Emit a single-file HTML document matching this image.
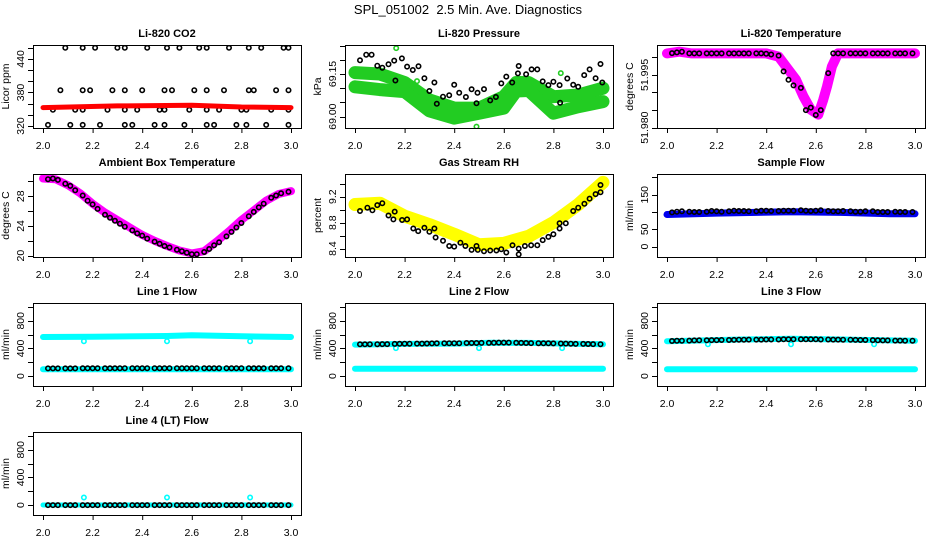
<!DOCTYPE html>
<html><head><meta charset="utf-8">
<style>
html,body{margin:0;padding:0;background:#fff;}
svg{display:block;font-family:"Liberation Sans",Arial,sans-serif;}
</style></head>
<body>
<svg id="chart" width="936" height="540" viewBox="0 0 936 540" xmlns="http://www.w3.org/2000/svg">
<text x="468" y="14" text-anchor="middle" font-size="13" xml:space="preserve">SPL_051002  2.5 Min. Ave. Diagnostics</text>
</svg>
<script>
// shared x grid (hours)
const xGrid = [2.02,2.04,2.06,2.09,2.11,2.13,2.16,2.18,2.20,2.22,2.25,2.27,2.29,2.31,2.33,2.36,2.38,2.40,2.42,2.45,2.47,2.49,2.51,2.54,2.56,2.58,2.60,2.62,2.65,2.67,2.69,2.71,2.74,2.76,2.78,2.80,2.83,2.85,2.87,2.89,2.92,2.94,2.96,2.99];
const xTicks = [2.0,2.2,2.4,2.6,2.8,3.0];
const xTickLabels = ["2.0","2.2","2.4","2.6","2.8","3.0"];

// CO2
const co2BandX = [2.0,2.3,2.6,2.8,3.0];
const co2BandY = [353,356,357,354,353];
const co2PtsX = [2.09,2.16,2.21,2.30,2.33,2.42,2.50,2.55,2.63,2.66,2.75,2.83,2.88,2.97,2.99,
 2.07,2.16,2.19,2.28,2.33,2.40,2.49,2.52,2.61,2.66,2.73,2.83,2.85,2.94,2.99,
 2.04,2.13,2.16,2.26,2.33,2.38,2.47,2.49,2.59,2.66,2.71,2.80,2.82,2.92,2.99,
 2.02,2.11,2.16,2.23,2.33,2.36,2.45,2.49,2.57,2.66,2.69,2.78,2.82,2.90,2.99];
const co2PtsY = [460,460,460,460,460,460,460,460,460,460,460,460,460,460,460,
 384,384,384,384,384,384,384,384,384,384,384,384,384,384,384,
 349,349,349,349,349,349,349,349,349,349,349,349,349,349,349,
 322,322,322,322,322,322,322,322,322,322,322,322,322,322,322];

// Pressure
const presBandX = [2.0,2.1,2.2,2.3,2.4,2.5,2.6,2.65,2.7,2.8,2.9,3.0];
const presBand1 = [69.155,69.150,69.120,69.059,69.030,69.030,69.070,69.120,69.120,69.070,69.076,69.100];
const presBand2 = [69.105,69.095,69.088,69.020,68.995,69.012,69.030,69.090,69.092,69.012,69.035,69.053];
const presPtsX = [2.02,2.045,2.067,2.09,2.11,2.135,2.158,2.163,2.189,2.21,2.233,2.256,2.28,2.30,2.32,2.33,2.355,2.38,2.40,2.42,2.447,2.47,2.49,2.494,2.52,2.545,2.568,2.59,2.61,2.634,2.657,2.66,2.69,2.712,2.735,2.757,2.78,2.80,2.825,2.827,2.856,2.88,2.90,2.924,2.946,2.97,2.99,2.997];
const presPtsY = [69.198,69.218,69.218,69.179,69.172,69.184,69.197,69.127,69.205,69.176,69.164,69.177,69.135,69.090,69.120,69.045,69.070,69.075,69.112,69.084,69.069,69.096,69.047,69.084,69.097,69.057,69.069,69.117,69.141,69.120,69.152,69.178,69.149,69.166,69.166,69.124,69.111,69.123,69.111,69.049,69.134,69.112,69.105,69.146,69.166,69.135,69.185,69.120];
const presOutX = [2.166,2.49,2.83,2.25];
const presOutY = [69.241,68.965,69.153,69.125];

// Li-820 temperature
const ltBandX = [2.0,2.05,2.1,2.4,2.45,2.48,2.52,2.55,2.58,2.61,2.63,2.645,2.665,2.69,3.0];
const ltBandY = [52.0011,52.0016,52.0011,52.0011,52.0002,51.9974,51.9936,51.9889,51.9851,51.9837,51.9879,51.9917,51.9974,52.0011,52.0011];
const ltPtsY = [52.0012,52.0014,52.0016,52.0011,52.0011,52.0011,52.0011,52.0011,52.0011,52.0011,52.0011,52.0011,52.0011,52.0011,52.0011,52.0011,52.0011,52.0010,52.0008,52.0005,51.9960,51.9936,51.9920,51.9913,51.9850,51.9857,51.9836,51.9850,51.9955,52.0011,52.0011,52.0011,52.0011,52.0011,52.0011,52.0011,52.0011,52.0011,52.0011,52.0011,52.0011,52.0011,52.0011,52.0011];

// Ambient box temperature
const ambBandX = [2.0,2.05,2.1,2.15,2.2,2.25,2.3,2.35,2.4,2.45,2.5,2.55,2.6,2.65,2.7,2.75,2.8,2.85,2.9,2.95,3.0];
const ambBandY = [30.4,30.3,29.5,28.4,27.0,25.8,24.8,23.8,22.8,22.0,21.3,20.7,20.3,20.6,21.9,23.3,24.8,26.1,27.4,28.3,28.7];
const ambPtsY = [30.3,30.4,30.2,29.7,29.4,28.8,28.1,27.4,26.9,26.3,25.5,25.1,24.7,24.3,23.9,23.4,23.0,22.7,22.3,21.9,21.6,21.3,21.1,20.8,20.6,20.4,20.2,20.2,20.5,20.9,21.4,21.8,22.6,23.2,23.8,24.4,25.3,25.9,26.5,27.0,27.8,28.1,28.4,28.6];

// Gas stream RH
const rhBandX = [2.0,2.1,2.2,2.3,2.4,2.5,2.6,2.7,2.8,2.9,3.0];
const rhBandY = [9.08,9.10,8.90,8.77,8.62,8.46,8.48,8.59,8.80,9.08,9.42];
const rhPtsX = [2.02,2.05,2.07,2.09,2.11,2.135,2.155,2.16,2.19,2.21,2.235,2.255,2.28,2.30,2.32,2.325,2.355,2.38,2.40,2.425,2.445,2.47,2.49,2.495,2.52,2.545,2.57,2.59,2.61,2.635,2.66,2.66,2.685,2.71,2.735,2.757,2.78,2.80,2.825,2.825,2.85,2.88,2.90,2.925,2.946,2.97,2.99,2.99];
const rhPtsY = [8.98,9.03,8.99,9.07,9.10,8.91,8.85,8.97,8.84,8.85,8.71,8.67,8.72,8.66,8.71,8.57,8.52,8.44,8.43,8.49,8.44,8.38,8.44,8.38,8.36,8.37,8.37,8.39,8.34,8.45,8.40,8.31,8.44,8.45,8.45,8.53,8.58,8.62,8.71,8.79,8.79,8.98,9.03,9.09,9.17,9.24,9.27,9.38];

// Sample flow
const sfBandX = [2.0,2.2,2.5,2.7,2.9,3.0];
const sfBandY = [93,97,101,99,95,95];
const sfPtsY = [99,101,102,101,100,100,101,103,102,101,102,104,103,103,102,102,104,104,103,103,104,104,104,105,104,103,104,105,103,102,102,103,102,101,101,102,102,100,100,100,101,100,100,100];

// Line flows
const l1UpX = [2.0,2.2,2.5,2.6,2.8,3.0];
const l1UpY = [565,570,580,590,575,565];
const l1LoX = [2.0,3.0];
const l1LoY = [100,100];
const l1Pts = [112,112,112,112,112,112,113,113,113,113,113,113,113,114,114,114,114,114,114,114,114,114,115,115,115,115,115,115,115,115,114,114,114,114,114,114,114,113,113,113,113,113,113,113];
const l2UpX = [2.0,2.2,2.4,2.55,2.7,2.85,3.0];
const l2UpY = [455,465,470,482,480,470,460];
const l2LoY = [105,105];
const l2Pts = [460,460,462,462,463,463,465,467,468,468,470,470,472,473,474,474,476,476,476,478,478,479,480,480,482,484,484,484,482,480,478,477,476,475,474,473,472,470,468,466,465,464,463,462];
const l3UpX = [2.0,2.3,2.5,2.7,3.0];
const l3UpY = [505,530,540,530,510];
const l3LoY = [100,100];
const l3Pts = [508,510,512,514,516,518,518,520,520,522,522,524,526,526,528,528,528,530,530,530,532,532,532,532,532,532,532,530,530,528,528,526,526,524,522,522,520,518,516,516,514,514,512,512];
const l4BandY = [2,2];
const l4Pts = [0,0,0,0,0,0,0,0,0,0,0,0,0,0,0,0,0,0,0,0,0,0,0,0,0,0,0,0,0,0,0,0,0,0,0,0,0,0,0,0,0,0,0,0];
const dipX = [2.165,2.50,2.835];
const l1Dip = [505,505,505];
const l2Dip = [405,405,405];
const l3Dip = [460,460,460];
const l4Dip = [110,110,110];

const svg = document.getElementById('chart');
const NS = 'http://www.w3.org/2000/svg';
function mk(tag, attrs, parent){
  const e = document.createElementNS(NS, tag);
  for (const k in attrs) e.setAttribute(k, attrs[k]);
  (parent||svg).appendChild(e);
  return e;
}
const flowTicks=[0,200,400,600,800,1000], flowLabels=[0,400,800];
const panels = [
 {name:'co2', title:'Li-820 CO2', col:0,row:0, yd:[316.4,465], yt:[320,340,360,380,400,420,440,460], yl:[320,380,440], fmt:v=>String(v), ylab:'Licor ppm',
  layers:[{t:'pts',x:co2PtsX,y:co2PtsY,c:'#000'},{t:'band',x:co2BandX,y:co2BandY,c:'#ff0000',w:5}]},
 {name:'pressure', title:'Li-820 Pressure', col:1,row:0, yd:[68.96,69.252], yt:[69.00,69.05,69.10,69.15,69.20,69.25], yl:[69.00,69.15], fmt:v=>v.toFixed(2), ylab:'kPa',
  layers:[{t:'band',x:presBandX,y:presBand1,c:'#22cc22',w:13},{t:'band',x:presBandX,y:presBand2,c:'#22cc22',w:13},{t:'pts',x:presOutX,y:presOutY,c:'#22cc22'},{t:'pts',x:presPtsX,y:presPtsY,c:'#000'}]},
 {name:'li820-temp', title:'Li-820 Temperature', col:2,row:0, yd:[51.9799,52.0035], yt:[51.980,51.985,51.990,51.995,52.000], yl:[51.980,51.995], fmt:v=>v.toFixed(3), ylab:'degrees C',
  layers:[{t:'band',x:ltBandX,y:ltBandY,c:'#ff00ff',w:10},{t:'pts',x:xGrid,y:ltPtsY,c:'#000'}]},
 {name:'ambient-temp', title:'Ambient Box Temperature', col:0,row:1, yd:[19.82,31.0], yt:[20,22,24,26,28,30], yl:[20,24,28], fmt:v=>String(v), ylab:'degrees C',
  layers:[{t:'band',x:ambBandX,y:ambBandY,c:'#ff00ff',w:8},{t:'pts',x:xGrid,y:ambPtsY,c:'#000'}]},
 {name:'gas-rh', title:'Gas Stream RH', col:1,row:1, yd:[8.27,9.55], yt:[8.4,8.6,8.8,9.0,9.2,9.4], yl:[8.4,8.8,9.2], fmt:v=>v.toFixed(1), ylab:'percent',
  layers:[{t:'band',x:rhBandX,y:rhBandY,c:'#ffff00',w:13},{t:'pts',x:rhPtsX,y:rhPtsY,c:'#000'}]},
 {name:'sample-flow', title:'Sample Flow', col:2,row:1, yd:[-30,210], yt:[0,50,100,150,200], yl:[0,50,150], fmt:v=>String(v), ylab:'ml/min',
  layers:[{t:'band',x:sfBandX,y:sfBandY,c:'#0000ee',w:7},{t:'pts',x:xGrid,y:sfPtsY,c:'#000'}]},
 {name:'line1-flow', title:'Line 1 Flow', col:0,row:2, yd:[-143,1057], yt:flowTicks, yl:flowLabels, fmt:v=>String(v), ylab:'ml/min',
  layers:[{t:'band',x:l1UpX,y:l1UpY,c:'#00ffff',w:6},{t:'band',x:l1LoX,y:l1LoY,c:'#00ffff',w:6},{t:'pts',x:dipX,y:l1Dip,c:'#00ffff'},{t:'pts',x:xGrid,y:l1Pts,c:'#000'}]},
 {name:'line2-flow', title:'Line 2 Flow', col:1,row:2, yd:[-143,1057], yt:flowTicks, yl:flowLabels, fmt:v=>String(v), ylab:'ml/min',
  layers:[{t:'band',x:l2UpX,y:l2UpY,c:'#00ffff',w:6},{t:'band',x:l1LoX,y:l2LoY,c:'#00ffff',w:6},{t:'pts',x:dipX,y:l2Dip,c:'#00ffff'},{t:'pts',x:xGrid,y:l2Pts,c:'#000'}]},
 {name:'line3-flow', title:'Line 3 Flow', col:2,row:2, yd:[-143,1057], yt:flowTicks, yl:flowLabels, fmt:v=>String(v), ylab:'ml/min',
  layers:[{t:'band',x:l3UpX,y:l3UpY,c:'#00ffff',w:6},{t:'band',x:l1LoX,y:l3LoY,c:'#00ffff',w:6},{t:'pts',x:dipX,y:l3Dip,c:'#00ffff'},{t:'pts',x:xGrid,y:l3Pts,c:'#000'}]},
 {name:'line4-flow', title:'Line 4 (LT) Flow', col:0,row:3, yd:[-143,1057], yt:flowTicks, yl:flowLabels, fmt:v=>String(v), ylab:'ml/min',
  layers:[{t:'band',x:l1LoX,y:l4BandY,c:'#00ffff',w:5},{t:'pts',x:dipX,y:l4Dip,c:'#00ffff'},{t:'pts',x:xGrid,y:l4Pts,c:'#000'}]}
];

panels.forEach(p=>{
  const L=[33,345,657][p.col], T=45+129*p.row, W=268, H=83, B=T+H;
  const sx=v=>L+10+(v-2)*248;
  const sy=v=>B-(v-p.yd[0])/(p.yd[1]-p.yd[0])*H;
  const g=mk('g',{});
  
  
  const t=mk('text',{x:L+W/2,y:T-8,'text-anchor':'middle','font-size':'11','font-weight':'bold'},g);
  t.textContent=p.title;
  
  
  const clip=mk('clipPath',{id:'c'+p.name},g);
  mk('rect',{x:L,y:T,width:W,height:H},clip);
  const plot=mk('g',{'clip-path':'url(#c'+p.name+')'},g);
  p.layers.forEach(ly=>{
    if(ly.t==='band'){
      const pts=ly.x.map((v,i)=>sx(v).toFixed(1)+','+sy(ly.y[i]).toFixed(1)).join(' ');
      const pl=mk('polyline',{points:pts,fill:'none',stroke:ly.c,'stroke-width':ly.w,'stroke-linejoin':'round','stroke-linecap':'round'},plot);
      
      
    } else {
      ly.x.forEach((v,i)=>{
        const c=mk('circle',{cx:sx(v).toFixed(1),cy:sy(ly.y[i]).toFixed(1),r:2.2,fill:'none',stroke:ly.c,'stroke-width':1.6},plot);
        
        
      });
    }
  });
  const box=mk('rect',{x:L+0.5,y:T+0.5,width:W,height:H,fill:'none',stroke:'#000','stroke-width':1},g);
  
  
  mk('line',{x1:sx(2),x2:sx(3),y1:B+0.5,y2:B+0.5,stroke:'#000'},g);
  xTicks.forEach((v,i)=>{
    mk('line',{x1:sx(v)+0.5,x2:sx(v)+0.5,y1:B,y2:B+5,stroke:'#000'},g);
    const tl=mk('text',{x:sx(v),y:B+21,'text-anchor':'middle','font-size':'10.5'},g);
    tl.textContent=xTickLabels[i];
    
    
  });
  p.yt.forEach(v=>{
    const y=Math.round(sy(v))+0.5;
    mk('line',{x1:L-5,x2:L,y1:y,y2:y,stroke:'#000'},g);
  });
  p.yl.forEach(v=>{
    const y=sy(v);
    const tl=mk('text',{x:L-9,y:y,'text-anchor':'middle','font-size':'10.5',transform:'rotate(-90 '+(L-9)+' '+y+')'},g);
    tl.textContent=p.fmt(v);
    
    
  });
  const yl=mk('text',{x:L-24,y:T+H/2,'text-anchor':'middle','font-size':'10.5',transform:'rotate(-90 '+(L-24)+' '+(T+H/2)+')'},g);
  yl.textContent=p.ylab;
  
  
});
</script>
</body></html>
